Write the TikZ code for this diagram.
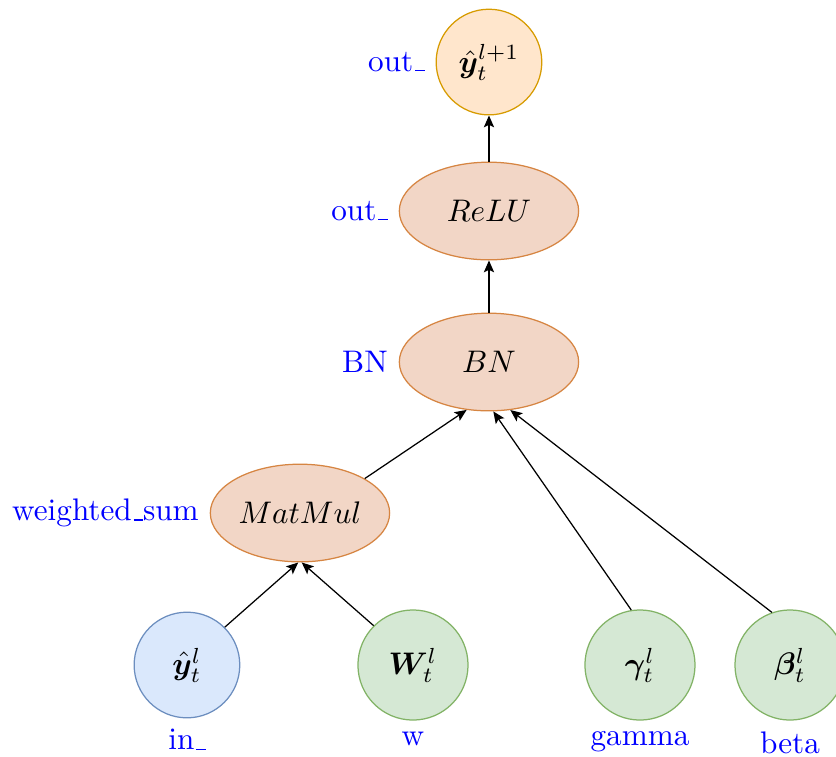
\documentclass[tikz,border=0pt]{standalone}
\usepackage{amsmath, amssymb}
\usepackage{bm}
\usetikzlibrary{arrows.meta, positioning, shapes.geometric}
\definecolor{opFill}{RGB}{242,214,198}
\definecolor{opLine}{RGB}{214,133,66}
\definecolor{outFill}{RGB}{255,230,204}
\definecolor{outLine}{RGB}{215,155,0}
\definecolor{inFill}{RGB}{218,232,252}
\definecolor{inLine}{RGB}{108,142,191}
\definecolor{parFill}{RGB}{213,232,212}
\definecolor{parLine}{RGB}{130,179,102}
% short underscore rule
\newcommand{\usc}{\leavevmode\kern.06em\vbox{\hrule width.3em}}

\tikzset{
    opnode/.style={ellipse, draw=opLine, fill=opFill, inner sep=0pt,
        minimum width=2.02cm, minimum height=1.1cm},
    outnode/.style={circle, draw=outLine, fill=outFill, minimum size=1.19cm},
    innode/.style={circle, draw=inLine, fill=inFill, minimum size=1.19cm},
    parnode/.style={circle, draw=parLine, fill=parFill, minimum size=1.24cm},
    lbl/.style={text=blue},
    arr/.style={-{Stealth[length=3.8pt, width=3.3pt, inset=0.8pt]}}
}

\begin{document}
\begin{tikzpicture}
    \useasboundingbox (0,0) rectangle (9.417,8.527);

    % operations
    \node[outnode] (top) at (5.508,7.828) {$\hat{\bm{y}}_t^{l+1}$};
    \node[opnode] (relu) at (5.508,6.150) {$ReLU$};
    \node[opnode] (bn) at (5.508,4.449) {$BN$};
    \node[opnode] (matmul) at (3.379,2.748) {$MatMul$};

    % inputs and parameters
    \node[innode] (yin) at (2.106,1.036) {$\hat{\bm{y}}_t^{l}$};
    \node[parnode] (w) at (4.652,1.036) {$\bm{W}_t^{l}$};
    \node[parnode] (gamma) at (7.209,1.036) {$\bm{\gamma}_t^{l}$};
    \node[parnode] (beta) at (8.899,1.036) {$\bm{\beta}_t^{l}$};

    % names
    \node[lbl, left=0pt of top] (top-name) {out\usc};
    \node[lbl, left=0pt of relu] (relu-name) {out\usc};
    \node[lbl, left=0pt of bn] (bn-name) {BN};
    \node[lbl, left=0pt of matmul] (matmul-name) {weighted\usc sum};
    \node[lbl, below=0pt of yin] (yin-name) {in\usc};
    \node[lbl, below=0pt of w] (w-name) {w};
    \node[lbl, below=0pt of gamma] (gamma-name) {gamma};
    \node[lbl, below=0pt of beta] (beta-name) {beta};

    % edges
    \draw[arr] (yin.45) -- (matmul.268);
    \draw[arr] (w.135) -- (matmul.272);
    \draw[arr] (matmul.28) -- (bn.245);
    \draw[arr] (gamma.99) -- (bn.275);
    \draw[arr] (beta.109) -- (bn.294);
    \draw[arr] (bn) -- (relu);
    \draw[arr] (relu) -- (top);
\end{tikzpicture}
\end{document}
